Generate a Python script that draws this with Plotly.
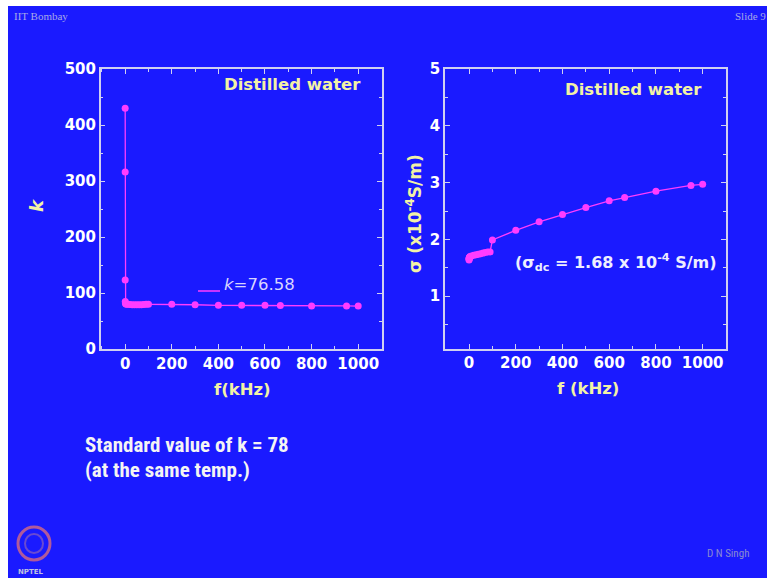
import plotly.graph_objects as go

# ---- data ----
freq_khz = [0.02, 0.05, 0.1, 0.5, 1, 2, 5, 10, 20, 30, 40, 50, 60, 70, 80, 90, 100,
            200, 300, 400, 500, 600, 666, 800, 950, 1000]
k_values = [430, 316, 123, 85, 82, 81, 80, 80, 79.5, 79, 79, 79, 79, 79, 79.5, 80, 80,
            80, 79, 78, 78, 78, 77.5, 77, 77, 76.6]
sigma_values = [1.64, 1.65, 1.66, 1.67, 1.68, 1.69, 1.70, 1.71, 1.72, 1.73, 1.74, 1.75,
                1.76, 1.77, 1.78, 1.78, 1.99, 2.16, 2.31, 2.44, 2.56, 2.68, 2.74, 2.85,
                2.95, 2.97]
k_ticks = [0, 100, 200, 300, 400, 500]
sigma_ticks = [1, 2, 3, 4, 5]
f_ticks = [0, 200, 400, 600, 800, 1000]

W, H = 767, 578
BLUE = "#1a1aff"
MAG = "#ff3cff"
AXC = "#d0d0f0"
YEL = "#f2f2a6"
WIDE = "DejaVu Sans, Verdana, sans-serif"

def px(x):
    return x / W

def py(y):
    return 1 - y / H

fig = go.Figure()
fig.add_trace(go.Scatter(x=freq_khz, y=k_values, mode="lines+markers",
                         line=dict(color=MAG, width=1.3),
                         marker=dict(color=MAG, size=7),
                         xaxis="x", yaxis="y", showlegend=False))
fig.add_trace(go.Scatter(x=freq_khz, y=sigma_values, mode="lines+markers",
                         line=dict(color=MAG, width=1.3),
                         marker=dict(color=MAG, size=7),
                         xaxis="x2", yaxis="y2", showlegend=False))

tickfont = dict(family=WIDE, size=15, color="white", weight="bold")
axis_common = dict(showline=True, linecolor=AXC, linewidth=1.5, mirror="ticks",
                   ticks="inside", tickcolor=AXC, ticklen=5, tickwidth=1.2,
                   showgrid=False, zeroline=False, tickfont=tickfont, automargin=False,
                   minor=dict(ticks="inside", ticklen=3, tickcolor=AXC, tickwidth=1))

fig.update_layout(
    width=W, height=H, margin=dict(l=0, r=0, t=0, b=0, pad=0, autoexpand=False),
    paper_bgcolor="white", plot_bgcolor=BLUE,
    xaxis=dict(domain=[px(100.7), px(381.5)], range=[-105, 1100], tickvals=f_ticks,
               anchor="y", **axis_common),
    yaxis=dict(domain=[py(349), py(69)], range=[0, 500], tickvals=k_ticks,
               anchor="x", **axis_common),
    xaxis2=dict(domain=[px(445), px(726)], range=[-103, 1100], tickvals=f_ticks,
                anchor="y2", **axis_common),
    yaxis2=dict(domain=[py(348.5), py(69)], range=[0.08, 5], tickvals=sigma_ticks,
                anchor="x2", **axis_common),
)
fig.update_xaxes(minor_dtick=100)
fig.layout.yaxis.minor.dtick = 50
fig.layout.yaxis2.minor.dtick = 0.5

shapes = [
    # slide background
    dict(type="rect", xref="paper", yref="paper", x0=px(8), x1=1.0, y0=0, y1=py(6),
         fillcolor=BLUE, line=dict(width=0), layer="below"),
    # legend sample line next to k=76.58
    dict(type="line", xref="paper", yref="paper", x0=px(198), x1=px(220),
         y0=py(291), y1=py(291), line=dict(color=MAG, width=1.5)),
    # NPTEL logo rings
    dict(type="circle", xref="paper", yref="paper", x0=px(18), x1=px(50),
         y0=py(560), y1=py(527), line=dict(color="#b05a9a", width=3)),
    dict(type="circle", xref="paper", yref="paper", x0=px(25), x1=px(43),
         y0=py(553), y1=py(534), line=dict(color="#6a4ad0", width=2)),
]
fig.update_layout(shapes=shapes)

def ann(text, x, y, size, color, bold=False, family=WIDE,
        xanchor="center", yanchor="middle", textangle=0):
    fig.add_annotation(text=text, xref="paper", yref="paper", x=px(x), y=py(y),
                       showarrow=False, xanchor=xanchor, yanchor=yanchor,
                       textangle=textangle,
                       font=dict(size=size, color=color, family=family,
                                 weight="bold" if bold else "normal"))

NARROW = "Liberation Sans Narrow, Arial Narrow, Roboto Condensed, Liberation Sans, sans-serif"
ann("Distilled water", 292, 84, 16.5, YEL, bold=True)
ann("Distilled water", 633, 89, 16.5, YEL, bold=True)
ann("<i>k</i>", 36, 206, 18, YEL, bold=True, textangle=-90)
ann("f(kHz)", 242, 389, 16.5, YEL, bold=True)
ann("σ (x10<sup>-4</sup>S/m)", 414, 213, 17, YEL, bold=True, textangle=-90)
ann("f (kHz)", 588, 388, 16.5, YEL, bold=True)
ann("<i>k</i>=76.58", 222, 284, 16.5, "#d8d4ff", xanchor="left")
ann("(σ<sub>dc</sub> = 1.68 x 10<sup>-4</sup> S/m)", 513, 262, 16, "#eeeeff",
    bold=True, xanchor="left")
ann("Standard value of k = 78", 83, 445, 21, "#f4f4f4", bold=True, xanchor="left", family=NARROW)
ann("(at the same temp.)", 83, 470, 21, "#f4f4f4", bold=True, xanchor="left", family=NARROW)
ann("IIT Bombay", 12, 16, 11, "#a8a8e8", xanchor="left",
    family="Liberation Serif, Times New Roman, serif")
ann("Slide 9", 733, 16, 11, "#a8a8e8", xanchor="left",
    family="Liberation Serif, Times New Roman, serif")
ann("D N Singh", 705, 553, 11, "#8a8ad0", xanchor="left", family=NARROW)
ann("NPTEL", 31, 572, 7, "#c0c0e0", bold=True)

post = ("document.documentElement.style.margin='0';document.body.style.margin='0';"
        "document.body.style.overflow='hidden';"
        "var d=document.getElementById('{plot_id}');"
        "d.style.position='fixed';d.style.top='0px';d.style.left='0px';")
fig.write_html("out.html", config={"displayModeBar": False}, post_script=post)
